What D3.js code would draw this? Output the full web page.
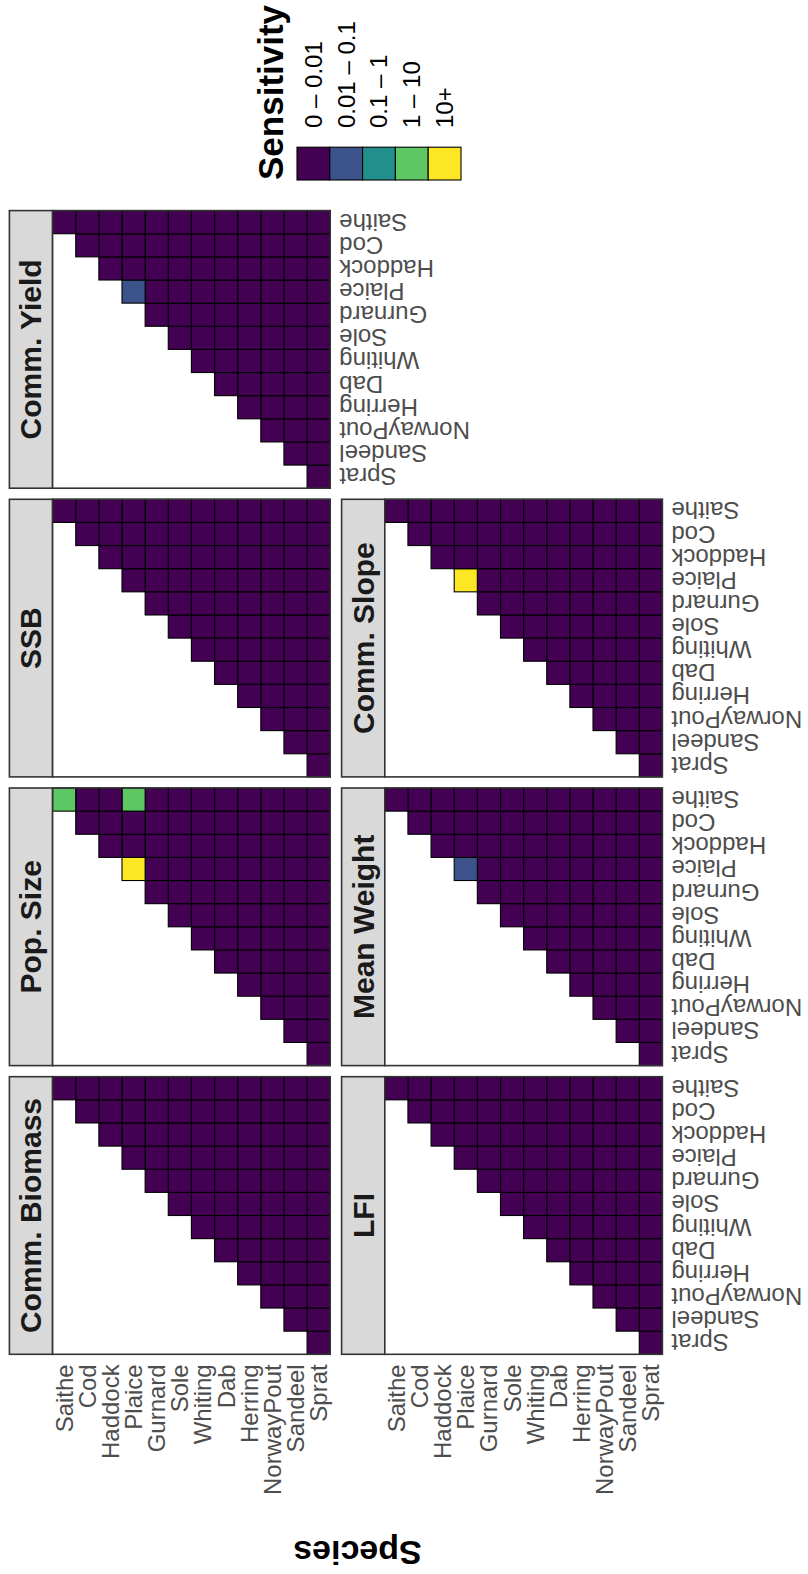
<!DOCTYPE html>
<html>
<head>
<meta charset="utf-8">
<script src="https://cdn.jsdelivr.net/npm/d3@7"></script>
<style>
  body { margin: 0; background: #ffffff; }
  svg { display: block; font-family: "Liberation Sans", Arial, Helvetica, sans-serif; }
</style>
</head>
<body>
<svg id="chart" width="808" height="1574"></svg>
<script>
// Species in factor order (first level = left of x axis / bottom of y axis)
const species = ["Sprat", "Sandeel", "NorwayPout", "Herring", "Dab", "Whiting",
                 "Sole", "Gurnard", "Plaice", "Haddock", "Cod", "Saithe"];

// Facet panels, in facet_wrap order (4 per row)
const metrics = ["Comm. Biomass", "Pop. Size", "SSB", "Comm. Yield",
                 "LFI", "Mean Weight", "Comm. Slope"];

// Sensitivity classes and their viridis colours
const bins = ["0 \u2013 0.01", "0.01 \u2013 0.1", "0.1 \u2013 1", "1 \u2013 10", "10+"];
const binColours = ["#440154", "#3B528B", "#21908C", "#5DC863", "#FDE725"];

// Species pairs whose sensitivity is above the lowest class
const raisedMetric = ["Pop. Size", "Pop. Size", "Pop. Size", "Comm. Yield", "Mean Weight", "Comm. Slope"];
const raisedX      = ["Saithe",    "Saithe",    "Plaice",    "Plaice",      "Plaice",      "Plaice"];
const raisedY      = ["Saithe",    "Plaice",    "Plaice",    "Plaice",      "Plaice",      "Plaice"];
const raisedBin    = ["1 \u2013 10", "1 \u2013 10", "10+", "0.01 \u2013 0.1", "0.01 \u2013 0.1", "10+"];

// Build the long table: one tile per (metric, x, y) in the lower triangle
const tiles = [];
metrics.forEach(m => {
  species.forEach((sx, i) => {
    species.forEach((sy, j) => {
      if (j <= i) {
        let bin = bins[0];
        raisedMetric.forEach((rm, k) => {
          if (rm === m && raisedX[k] === sx && raisedY[k] === sy) bin = raisedBin[k];
        });
        tiles.push({ metric: m, x: sx, y: sy, bin });
      }
    });
  });
});

// ---- layout (drawn landscape, then turned a quarter turn) ----
const W = 1574;
const panelSize = 277.6, panelStep = 288.7, panelLeft = 219.7;
const stripH = 43.2, rowTop = [9.4, 341.6];
const ncol = 4;

const colour = d3.scaleOrdinal().domain(bins).range(binColours);
const x = d3.scaleBand().domain(species).range([0, panelSize]).padding(0);
const y = d3.scaleBand().domain(species.slice().reverse()).range([0, panelSize]).padding(0);

const svg = d3.select("#chart");
const root = svg.append("g").attr("transform", `translate(0,${W}) rotate(-90)`);

const axisGrey = "#4D4D4D";

metrics.forEach((m, idx) => {
  const col = idx % ncol, row = Math.floor(idx / ncol);
  const px = panelLeft + col * panelStep;
  const sy = rowTop[row];
  const py = sy + stripH;

  // strip
  const strip = root.append("g").attr("transform", `translate(${px},${sy})`);
  strip.append("rect")
    .attr("width", panelSize).attr("height", stripH)
    .attr("fill", "#D9D9D9").attr("stroke", "#333333").attr("stroke-width", 1.6);
  strip.append("text")
    .attr("x", panelSize / 2).attr("y", stripH / 2)
    .attr("text-anchor", "middle").attr("dominant-baseline", "central")
    .attr("font-size", 30).attr("font-weight", "bold").attr("fill", "#1A1A1A")
    .text(m);

  // panel
  const panel = root.append("g").attr("transform", `translate(${px},${py})`);
  panel.append("rect").attr("width", panelSize).attr("height", panelSize).attr("fill", "#ffffff");
  panel.selectAll("rect.tile")
    .data(tiles.filter(t => t.metric === m))
    .join("rect")
    .attr("class", "tile")
    .attr("x", d => x(d.x)).attr("y", d => y(d.y))
    .attr("width", x.bandwidth()).attr("height", y.bandwidth())
    .attr("fill", d => colour(d.bin))
    .attr("stroke", "#000000").attr("stroke-width", 1.1);
  panel.append("rect")
    .attr("width", panelSize).attr("height", panelSize)
    .attr("fill", "none").attr("stroke", "#333333").attr("stroke-width", 1.6);

  // y axis labels on the first column
  if (col === 0) {
    const yAxis = d3.axisLeft(y).tickSize(0).tickPadding(10);
    const ga = panel.append("g").call(yAxis);
    ga.select(".domain").remove();
    ga.selectAll("text")
      .attr("font-size", 24).attr("fill", axisGrey)
      .attr("font-family", "'Liberation Sans', Arial, sans-serif")
      .attr("dy", null).attr("dominant-baseline", "central");
  }

  // x axis labels where no panel sits below
  const below = idx + ncol;
  if (below >= metrics.length) {
    const xAxis = d3.axisBottom(x).tickSize(0).tickPadding(0);
    const gb = panel.append("g").attr("transform", `translate(0,${panelSize})`).call(xAxis);
    gb.select(".domain").remove();
    gb.selectAll("text")
      .attr("font-size", 24).attr("fill", axisGrey)
      .attr("font-family", "'Liberation Sans', Arial, sans-serif")
      .attr("y", null).attr("dy", null)
      .attr("transform", "translate(0,9) rotate(-90)")
      .attr("text-anchor", "end").attr("dominant-baseline", "central");
  }
});

// y axis title
const plotTop = rowTop[0] + stripH, plotBottom = rowTop[1] + stripH + panelSize;
root.append("text")
  .attr("transform", `translate(33,${(plotTop + plotBottom) / 2}) rotate(-90)`)
  .attr("text-anchor", "middle")
  .attr("font-size", 34).attr("font-weight", "bold").attr("fill", "#000000")
  .text("Species");

// legend
const legend = root.append("g").attr("transform", "translate(1394,0)");
legend.append("text")
  .attr("x", 0).attr("y", 283)
  .attr("font-size", 35).attr("font-weight", "bold").attr("fill", "#000000")
  .text("Sensitivity");
const keySize = 32.8, keyTop = 297;
const keys = legend.selectAll("g.key").data(bins).join("g")
  .attr("class", "key")
  .attr("transform", (d, i) => `translate(0,${keyTop + i * keySize})`);
keys.append("rect")
  .attr("width", keySize).attr("height", keySize)
  .attr("fill", d => colour(d))
  .attr("stroke", "#000000").attr("stroke-width", 1.1);
keys.append("text")
  .attr("x", 52).attr("y", keySize / 2)
  .attr("dominant-baseline", "central")
  .attr("font-size", 24).attr("fill", "#000000")
  .text(d => d);
</script>
</body>
</html>
